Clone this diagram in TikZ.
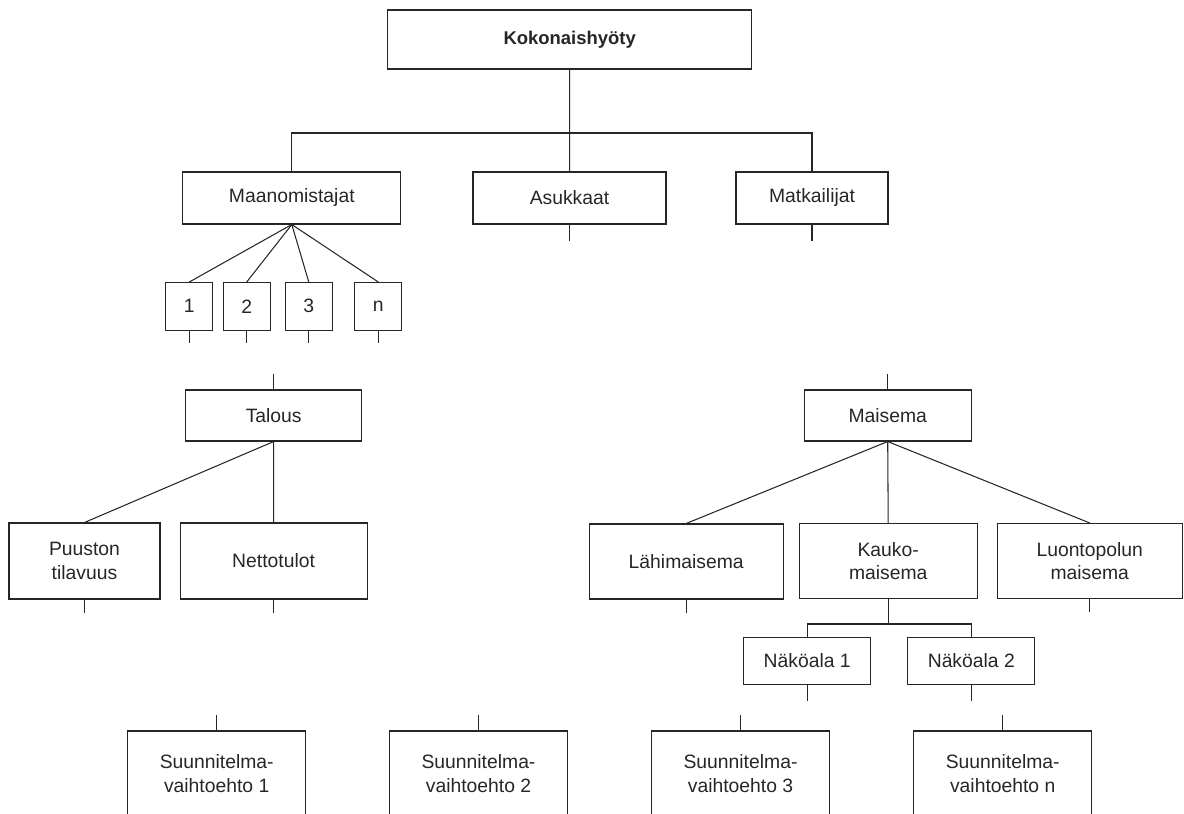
\documentclass[tikz,border=0pt]{standalone}
\usepackage{fontspec}
\setmainfont{Liberation Sans}

\begin{document}
\begin{tikzpicture}[x=0.2mm,y=-0.2mm,
    box/.style={draw=black!85,line width=0.6pt,inner sep=0pt,align=center,
      text=black!85,font=\fontsize{11}{13.5}\selectfont},
    link/.style={draw=black!85,line width=0.6pt}]
  \path[use as bounding box,clip] (0,0) rectangle (1184,814);

  \node[box,minimum width=72.8mm,minimum height=11.8mm,font=\fontsize{10.5}{12}\selectfont\bfseries]
    (total) at (569.7,39.5) {Kokonaishyöty};

  \node[box,minimum width=43.6mm,minimum height=10.4mm] (owners) at (291.8,198) {Maanomistajat};
  \node[box,minimum width=38.6mm,minimum height=10.4mm] (residents) at (569.5,198) {Asukkaat};
  \node[box,minimum width=30.4mm,minimum height=10.4mm] (tourists) at (812,198) {Matkailijat};

  \node[box,minimum width=9.4mm,minimum height=9.5mm] (owner 1) at (189.3,306.3) {1};
  \node[box,minimum width=9.4mm,minimum height=9.5mm] (owner 2) at (246.7,306.3) {2};
  \node[box,minimum width=9.4mm,minimum height=9.5mm] (owner 3) at (308.8,306.3) {3};
  \node[box,minimum width=9.4mm,minimum height=9.5mm] (owner n) at (378.3,306.3) {n};

  \node[box,minimum width=35.2mm,minimum height=10.2mm] (economy) at (273.7,415.5) {Talous};
  \node[box,minimum width=30.2mm,minimum height=15.2mm] (volume) at (84.5,561) {Puuston\\tilavuus};
  \node[box,minimum width=37.4mm,minimum height=15.2mm] (income) at (273.6,561) {Nettotulot};

  \node[box,minimum width=33.4mm,minimum height=10.2mm] (landscape) at (887.7,415.5) {Maisema};
  \node[box,minimum width=38.8mm,minimum height=15mm] (near) at (686.2,561.5) {Lähimaisema};
  \node[box,minimum width=35.6mm,minimum height=15mm] (far) at (888.2,561) {Kauko-\\maisema};
  \node[box,minimum width=37mm,minimum height=15mm] (trail) at (1089.7,561) {Luontopolun\\maisema};

  \node[box,minimum width=25.4mm,minimum height=9.3mm] (view 1) at (807.2,661) {Näköala 1};
  \node[box,minimum width=25.4mm,minimum height=9.3mm] (view 2) at (971.3,661) {Näköala 2};

  \node[box,minimum width=35.6mm,minimum height=17mm] (plan 1) at (216.7,773.5) {Suunnitelma-\\vaihtoehto 1};
  \node[box,minimum width=35.6mm,minimum height=17mm] (plan 2) at (478.5,773.5) {Suunnitelma-\\vaihtoehto 2};
  \node[box,minimum width=35.6mm,minimum height=17mm] (plan 3) at (740.5,773.5) {Suunnitelma-\\vaihtoehto 3};
  \node[box,minimum width=35.6mm,minimum height=17mm] (plan n) at (1002.7,773.5) {Suunnitelma-\\vaihtoehto n};

  \coordinate (top bar) at (569.7,133);
  \coordinate (far bar) at (888.2,624);

  % tree links
  \draw[link] (total) -- (residents);
  \draw[link] (owners.north) |- (top bar) -| (tourists.north);
  \foreach \n in {1,2,3,n}
    \draw[link] (owners.south) -- (owner \n.north);
  \draw[link] (economy.south) -- (volume.north);
  \draw[link] (economy.south) -- (income.north);
  \foreach \n in {near,far,trail}
    \draw[link] (landscape.south) -- (\n.north);
  \draw[link] (far.south) -- (far bar);
  \draw[link] (view 1.north) |- (far bar) -| (view 2.north);

  % loose ends
  \foreach \n in {residents,tourists}
    \draw[link] (\n.south) -- ++(0,16);
  \foreach \n in {1,2,3,n}
    \draw[link] (owner \n.south) -- ++(0,12);
  \foreach \n in {economy,landscape}
    \draw[link] (\n.north) -- ++(0,-15);
  \foreach \n in {volume,income,near,trail}
    \draw[link] (\n.south) -- ++(0,13);
  \foreach \n in {view 1,view 2}
    \draw[link] (\n.south) -- ++(0,16);
  \foreach \n in {plan 1,plan 2,plan 3,plan n}
    \draw[link] (\n.north) -- ++(0,-15);
\end{tikzpicture}
\end{document}
